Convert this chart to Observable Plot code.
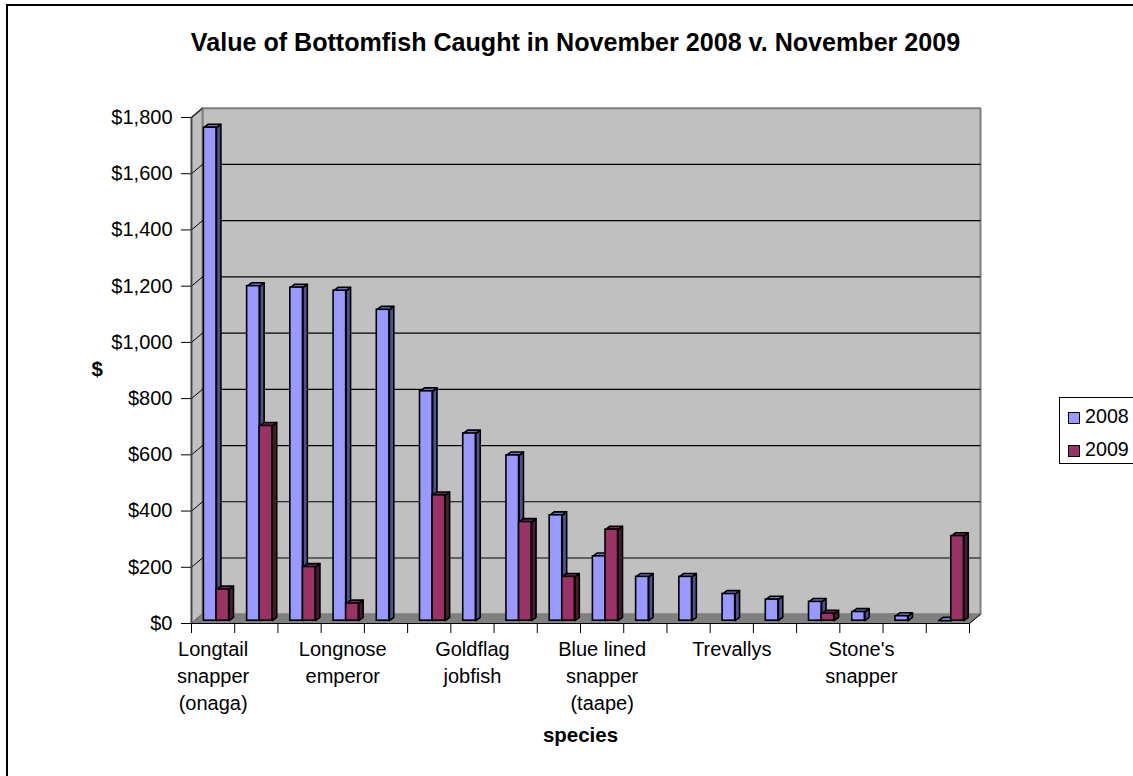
<!DOCTYPE html>
<html>
<head>
<meta charset="utf-8">
<script src="https://cdn.jsdelivr.net/npm/d3@7"></script>
<script src="https://cdn.jsdelivr.net/npm/@observablehq/plot@0.6"></script>
<style>
html,body{margin:0;padding:0;background:#fff;overflow:hidden}
#wrap{position:relative;width:1133px;height:776px;font-family:"Liberation Sans",Arial,sans-serif;color:#000}
#wrap svg{display:block;position:absolute;left:0;top:0}
.bt{position:absolute;left:6px;top:4px;right:0;height:2px;background:#000}
.bl{position:absolute;left:6px;top:4px;bottom:0;width:2px;background:#000}
#legend{position:absolute;left:1059px;top:397px;width:80px;height:65px;border:1px solid #000;border-right:none;box-sizing:content-box;font-size:19.7px}
.row{position:absolute;left:8px;height:22px;line-height:22px;white-space:nowrap}
.sw{display:inline-block;width:10px;height:10px;border:1.2px solid #000;margin-right:5px;vertical-align:-0.5px}
</style>
</head>
<body>
<div id="wrap"><div class="bt"></div><div class="bl"></div></div>
<script>
const categories = ["Longtail\nsnapper\n(onaga)","","","Longnose\nemperor","","","Goldflag\njobfish","","","Blue lined\nsnapper\n(taape)","","","Trevallys","","","Stone's\nsnapper","",""];
const values2008 = [1754,1190,1185,1174,1106,816,666,588,375,229,156,156,95,75,67,31,16,0];
const values2009 = [111,693,191,61,null,446,null,351,156,324,null,null,null,null,25,null,null,301];
const yTicks = [0,200,400,600,800,1000,1200,1400,1600,1800];
const title = "Value of Bottomfish Caught in November 2008 v. November 2009";
const seriesColors = {
  2008:{front:"#9999FF", side:"#50508A", top:"#6F6FC4"},
  2009:{front:"#993366", side:"#4A1A33", top:"#732650"}
};

// wall depth and bar depth, in scale units
const pxX = 778/18, pxY = 1800/506.3;
const wallX = 11/pxX, wallY = 9.3*pxY;
const barW = 12.6/pxX, barStart = 12.4/pxX, barDX = 4.4/pxX, barDY = 3.4*pxY, baseY = 2.8*pxY;

const bars = [];
categories.forEach((c,i)=>{
  [[2008,values2008[i],0],[2009,values2009[i],1]].forEach(([s,v,k])=>{
    if(v==null) return;
    bars.push({s,i,v,x1:i+barStart+k*barW,x2:i+barStart+(k+1)*barW});
  });
});
const face = (kind,s)=>bars.filter(b=>b.s===s).flatMap(b=>{
  const y0=baseY, y1=b.v+baseY;
  const pts = kind==="side"
    ? [[b.x2,y0],[b.x2+barDX,y0+barDY],[b.x2+barDX,y1+barDY],[b.x2,y1]]
    : [[b.x1,y1],[b.x1+barDX,y1+barDY],[b.x2+barDX,y1+barDY],[b.x2,y1]];
  return pts.map(p=>({id:b.i,x:p[0],y:p[1]}));
});
const poly = (kind,s)=>Plot.line(face(kind,s),{x:"x",y:"y",z:"id",curve:"linear-closed",fill:seriesColors[s][kind],stroke:"#000",strokeWidth:1.6,strokeLinejoin:"round"});
const fronts = s=>Plot.rect(bars.filter(b=>b.s===s),{x1:"x1",x2:"x2",y1:()=>baseY,y2:b=>b.v+baseY,fill:seriesColors[s].front,stroke:"#000",strokeWidth:1.6});

const leftWall = [{x:0,y:0},{x:wallX,y:wallY},{x:wallX,y:1800+wallY},{x:0,y:1800}];
const floor = [{x:0,y:0},{x:18,y:0},{x:18+wallX,y:wallY},{x:wallX,y:wallY}];
const backWall = [{x:wallX,y:wallY},{x:18+wallX,y:wallY},{x:18+wallX,y:1800+wallY},{x:wallX,y:1800+wallY}];
const font = "Liberation Sans";

const chart = Plot.plot({
  width:1133,height:776,
  marginLeft:191,marginRight:164,marginTop:117,marginBottom:153,
  style:{fontFamily:font,fontSize:"20px",background:"transparent",color:"#000",overflow:"visible"},
  x:{domain:[0,18],axis:null},
  y:{domain:[0,1800],axis:null},
  marks:[
    Plot.line(backWall,{x:"x",y:"y",curve:"linear-closed",fill:"#C0C0C0",stroke:"#808080",strokeWidth:2}),
    Plot.line(leftWall,{x:"x",y:"y",curve:"linear-closed",fill:"#C0C0C0",stroke:"#808080",strokeWidth:2}),
    Plot.link(yTicks.slice(1,-1),{x1:()=>wallX,x2:()=>18+wallX,y1:d=>d+wallY,y2:d=>d+wallY,stroke:"#000",strokeWidth:1.2}),
    Plot.link(yTicks,{x1:()=>0,x2:()=>wallX,y1:d=>d,y2:d=>d+wallY,stroke:"#000",strokeWidth:1}),
    Plot.line(floor,{x:"x",y:"y",curve:"linear-closed",fill:"#808080",stroke:"#808080",strokeWidth:1}),
    poly("side",2008),poly("top",2008),
    poly("side",2009),poly("top",2009),
    fronts(2008),fronts(2009),
    Plot.ruleX([0],{stroke:"#444",strokeWidth:1.5}),
    Plot.ruleY([0],{stroke:"#000",strokeWidth:1.2}),
    Plot.link([0],{x1:()=>18,x2:()=>18+wallX,y1:()=>0,y2:()=>wallY,stroke:"#000",strokeWidth:1}),
    Plot.axisY({ticks:yTicks,tickSize:10,tickPadding:9,tickFormat:d=>"$"+d3.format(",")(d),fontSize:20,label:null,stroke:"#000"}),
    Plot.axisX({ticks:d3.range(0,19),tickSize:10,tickFormat:()=>"",label:null,stroke:"#000"}),
    Plot.text(categories,{x:(d,i)=>i+0.5,y:()=>0,text:d=>d,dy:13,lineAnchor:"top",lineHeight:1.36,fontSize:20,fill:"#000"}),
    Plot.text([title],{frameAnchor:"top",dx:-5,dy:-84,fontSize:25.1,fontWeight:"bold",fill:"#000"}),
    Plot.text(["$"],{frameAnchor:"left",dx:-100,dy:-1,fontSize:20.5,fontWeight:"bold",fill:"#000"}),
    Plot.text(["species"],{frameAnchor:"bottom",dx:0,dy:118,fontSize:20.5,fontWeight:"bold",fill:"#000"})
  ]
});
const wrap = document.getElementById("wrap");
wrap.insertBefore(chart,wrap.firstChild);

const legend = document.createElement("div");
legend.id="legend";
[2008,2009].forEach((s,k)=>{
  const r=document.createElement("div");
  r.className="row"; r.style.top=(7+k*33)+"px";
  const sw=document.createElement("span"); sw.className="sw"; sw.style.background=seriesColors[s].front;
  r.appendChild(sw); r.appendChild(document.createTextNode(String(s)));
  legend.appendChild(r);
});
wrap.appendChild(legend);
</script>
</body>
</html>
